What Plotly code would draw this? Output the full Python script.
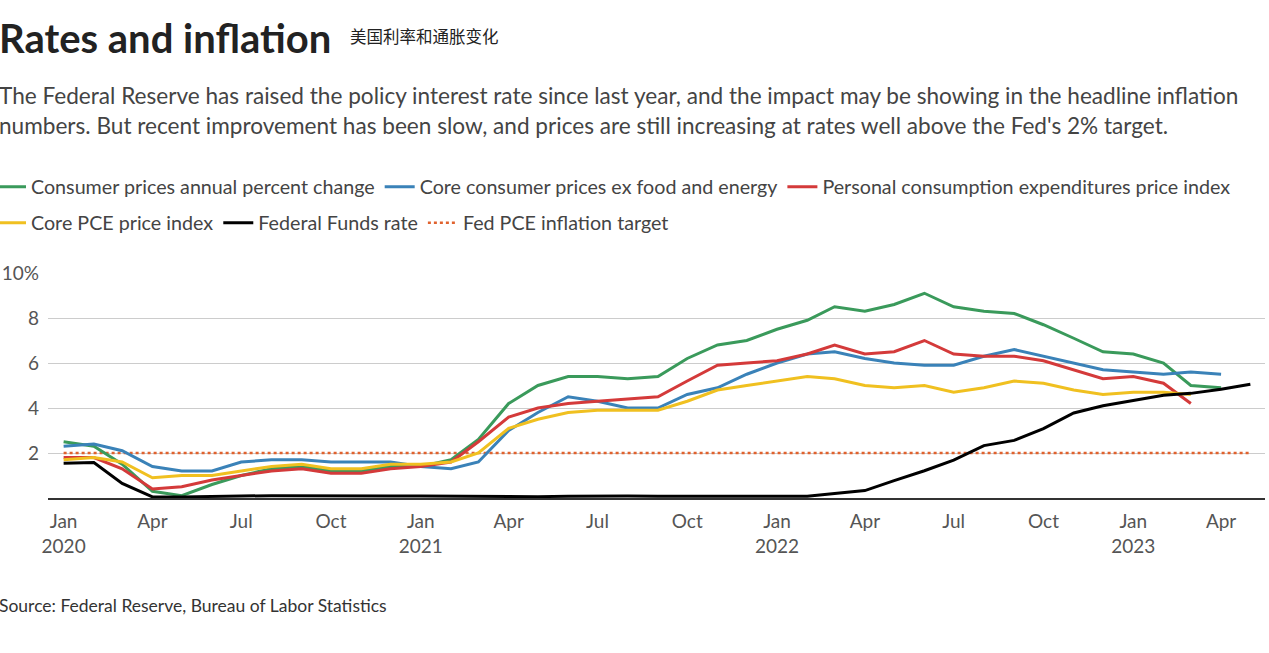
import plotly.graph_objects as go

# ---- data ----
months = [f"{y}-{m:02d}-01" for y in (2020, 2021, 2022, 2023) for m in range(1, 13)][:41]

cpi = [2.5, 2.3, 1.5, 0.3, 0.1, 0.6, 1.0, 1.3, 1.4, 1.2, 1.2, 1.4,
       1.4, 1.7, 2.6, 4.2, 5.0, 5.4, 5.4, 5.3, 5.4, 6.2, 6.8, 7.0,
       7.5, 7.9, 8.5, 8.3, 8.6, 9.1, 8.5, 8.3, 8.2, 7.7, 7.1, 6.5,
       6.4, 6.0, 5.0, 4.9]
core_cpi = [2.3, 2.4, 2.1, 1.4, 1.2, 1.2, 1.6, 1.7, 1.7, 1.6, 1.6, 1.6,
            1.4, 1.3, 1.6, 3.0, 3.8, 4.5, 4.3, 4.0, 4.0, 4.6, 4.9, 5.5,
            6.0, 6.4, 6.5, 6.2, 6.0, 5.9, 5.9, 6.3, 6.6, 6.3, 6.0, 5.7,
            5.6, 5.5, 5.6, 5.5]
pce = [1.8, 1.8, 1.3, 0.4, 0.5, 0.8, 1.0, 1.2, 1.3, 1.1, 1.1, 1.3,
       1.4, 1.6, 2.5, 3.6, 4.0, 4.2, 4.3, 4.4, 4.5, 5.2, 5.9, 6.0,
       6.1, 6.4, 6.8, 6.4, 6.5, 7.0, 6.4, 6.3, 6.3, 6.1, 5.7, 5.3,
       5.4, 5.1, 4.2]
core_pce = [1.7, 1.8, 1.6, 0.9, 1.0, 1.0, 1.2, 1.4, 1.5, 1.3, 1.3, 1.5,
            1.5, 1.6, 2.0, 3.1, 3.5, 3.8, 3.9, 3.9, 3.9, 4.3, 4.8, 5.0,
            5.2, 5.4, 5.3, 5.0, 4.9, 5.0, 4.7, 4.9, 5.2, 5.1, 4.8, 4.6,
            4.7, 4.7, 4.6]
fed_funds = [1.55, 1.58, 0.65, 0.05, 0.05, 0.08, 0.09, 0.10, 0.09, 0.09, 0.09, 0.09,
             0.09, 0.08, 0.07, 0.07, 0.06, 0.08, 0.10, 0.09, 0.08, 0.08, 0.08, 0.08,
             0.08, 0.08, 0.20, 0.33, 0.77, 1.21, 1.68, 2.33, 2.56, 3.08, 3.78, 4.10,
             4.33, 4.57, 4.65, 4.83, 5.06]
target = [2.0] * 41

tick_dates = months[0:40:3]
tick_text = ["Jan<br>2020", "Apr", "Jul", "Oct",
             "Jan<br>2021", "Apr", "Jul", "Oct",
             "Jan<br>2022", "Apr", "Jul", "Oct",
             "Jan<br>2023", "Apr"]
y_ticks = [2, 4, 6, 8, 10]
y_text = ["2", "4", "6", "8", "10%"]

FONT = "Lato"
GRAY = "#555555"

W, H = 1269, 653
L, R, T, B = 48, 4, 273, 155
ph = H - T - B
pw = W - L - R


def py(p):
    return (H - B - p) / ph


def px(p):
    return (p - L) / pw


fig = go.Figure()
series = [
    ("Consumer prices annual percent change", cpi, "#3a9a5b", "legend"),
    ("Core consumer prices ex food and energy", core_cpi, "#3a82b8", "legend"),
    ("Personal consumption expenditures price index", pce, "#d43a3a", "legend"),
    ("Core PCE price index", core_pce, "#f0c020", "legend2"),
    ("Federal Funds rate", fed_funds, "#000000", "legend2"),
]
fig.add_trace(go.Scatter(x=months, y=target, mode="lines", name="Fed PCE inflation target",
                         line=dict(color="#e0622e", width=2.5, dash="dot"),
                         legend="legend2", legendrank=1006))
for i, (name, vals, col, lg) in enumerate(series):
    fig.add_trace(go.Scatter(x=months[:len(vals)], y=vals, mode="lines", name=name,
                             line=dict(color=col, width=3), legend=lg, legendrank=1000 + i))

annotations = [
    dict(text="<b>Rates and inflation</b>", x=px(-3), y=py(38), xanchor="left", yanchor="middle",
         font=dict(family=FONT, size=40, color="#222222")),
    dict(text="美国利率和通胀变化", x=px(348), y=py(36), xanchor="left", yanchor="middle",
         font=dict(family="Noto Sans CJK SC", size=16.5, color="#222222")),
    dict(text="The Federal Reserve has raised the policy interest rate since last year, and the impact may be showing in the headline inflation",
         x=px(-3), y=py(95), xanchor="left", yanchor="middle",
         font=dict(family=FONT, size=22.6, color="#444444")),
    dict(text="numbers. But recent improvement has been slow, and prices are still increasing at rates well above the Fed's 2% target.",
         x=px(-3), y=py(125), xanchor="left", yanchor="middle",
         font=dict(family=FONT, size=22.6, color="#444444")),
    dict(text="Source: Federal Reserve, Bureau of Labor Statistics", x=px(-3), y=py(605),
         xanchor="left", yanchor="middle", font=dict(family=FONT, size=17.5, color="#333333")),
]
for a in annotations:
    a.update(xref="paper", yref="paper", showarrow=False, align="left")

legend_common = dict(orientation="h", xanchor="left", yanchor="middle",
                     font=dict(family=FONT, size=19.7, color="#444444"),
                     itemwidth=30, traceorder="normal", bgcolor="rgba(0,0,0,0)")

fig.update_layout(
    width=W, height=H,
    margin=dict(l=L, r=R, t=T, b=B, autoexpand=False),
    paper_bgcolor="white", plot_bgcolor="white",
    font=dict(family=FONT, color=GRAY, size=19),
    showlegend=True,
    legend=dict(x=px(-9), y=py(187), **legend_common),
    legend2=dict(x=px(-9), y=py(223), **legend_common),
    annotations=annotations,
    xaxis=dict(range=["2019-12-16", "2023-05-16"], tickvals=tick_dates, ticktext=tick_text,
               showgrid=False, showline=True, linecolor="#333333", linewidth=2,
               ticks="", ticklabelstandoff=5,
               tickfont=dict(family=FONT, size=19, color=GRAY), zeroline=False),
    yaxis=dict(range=[0, 10], tickvals=y_ticks, ticktext=y_text, showgrid=True,
               gridcolor="#cccccc", gridwidth=1, zeroline=False, ticks="",
               ticklabelstandoff=8, tickfont=dict(family=FONT, size=19, color=GRAY)),
    hovermode=False,
)

fig.write_html("out.html", config={"displayModeBar": False},
               post_script="document.body.style.margin='0';document.body.style.overflow='hidden';")
